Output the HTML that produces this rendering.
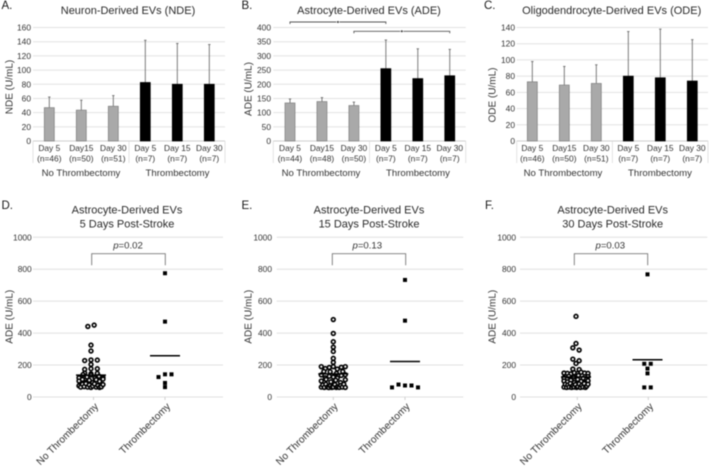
<!DOCTYPE html>
<html lang="en">
<head>
<meta charset="utf-8">
<title>Extracellular vesicle levels by thrombectomy status</title>
<style>
html,body{margin:0;padding:0;background:#fff;width:709px;height:468px;overflow:hidden}
svg{display:block;filter:blur(.45px)}
text{font-family:"Liberation Sans",sans-serif;fill:#333}
.title{font-size:11px;fill:#2a2a2a;text-anchor:middle}
.letter{font-size:11.5px;fill:#1a1a1a}
.ytitle{font-size:10px;text-anchor:middle}
.tick{font-size:8.4px;text-anchor:end}
.day{font-size:8.4px;text-anchor:middle}
.group{font-size:9.6px;text-anchor:middle}
.p{font-size:9.6px;text-anchor:middle}
.cat{font-size:10.1px;text-anchor:end}
</style>
</head>
<body>
<svg id="chart" xmlns="http://www.w3.org/2000/svg" width="709" height="468" viewBox="0 0 709 468">
  <rect width="709" height="468" fill="#fff"/>

  <g id="panel-a">
    <text class="letter" x="1.5" y="9">A.</text>
    <text class="title" x="128" y="14">Neuron-Derived EVs (NDE)</text>
    <text class="ytitle" transform="translate(12.5 87) rotate(-90)">NDE (U/mL)</text>
    <text class="group" x="81" y="176">No Thrombectomy</text>
    <text class="group" x="177.5" y="176">Thrombectomy</text>
  </g>

  <g id="panel-b">
    <text class="letter" x="241.5" y="9">B.</text>
    <text class="title" x="369" y="14">Astrocyte-Derived EVs (ADE)</text>
    <text class="ytitle" transform="translate(251.7 89) rotate(-90)">ADE (U/mL)</text>
    <text class="group" x="321" y="176">No Thrombectomy</text>
    <text class="group" x="418" y="176">Thrombectomy</text>
  </g>

  <g id="panel-c">
    <text class="letter" x="484" y="9">C.</text>
    <text class="title" x="611.7" y="14">Oligodendrocyte-Derived EVs (ODE)</text>
    <text class="ytitle" transform="translate(495.7 95) rotate(-90)">ODE (U/mL)</text>
    <text class="group" x="563" y="176">No Thrombectomy</text>
    <text class="group" x="660" y="176">Thrombectomy</text>
  </g>

  <g id="panel-d">
    <text class="letter" x="1.5" y="209">D.</text>
    <text class="title" x="127" y="213.3">Astrocyte-Derived EVs</text>
    <text class="title" x="127" y="227.3">5 Days Post-Stroke</text>
    <text class="ytitle" transform="translate(12.5 316.7) rotate(-90)">ADE (U/mL)</text>
    <text class="p" x="128" y="248.3"><tspan font-style="italic">p</tspan>=0.02</text>
    <text class="cat" transform="translate(99 407) rotate(-45)">No Thrombectomy</text>
    <text class="cat" transform="translate(171 407) rotate(-45)">Thrombectomy</text>
  </g>

  <g id="panel-e">
    <text class="letter" x="241.5" y="209">E.</text>
    <text class="title" x="369" y="213.3">Astrocyte-Derived EVs</text>
    <text class="title" x="369" y="227.3">15 Days Post-Stroke</text>
    <text class="ytitle" transform="translate(251.7 316.7) rotate(-90)">ADE (U/mL)</text>
    <text class="p" x="367.3" y="248.3"><tspan font-style="italic">p</tspan>=0.13</text>
    <text class="cat" transform="translate(338.5 407) rotate(-45)">No Thrombectomy</text>
    <text class="cat" transform="translate(410.5 407) rotate(-45)">Thrombectomy</text>
  </g>

  <g id="panel-f">
    <text class="letter" x="485" y="209">F.</text>
    <text class="title" x="612.7" y="213.3">Astrocyte-Derived EVs</text>
    <text class="title" x="612.7" y="227.3">30 Days Post-Stroke</text>
    <text class="ytitle" transform="translate(495.7 316.7) rotate(-90)">ADE (U/mL)</text>
    <text class="p" x="610.3" y="248.3"><tspan font-style="italic">p</tspan>=0.03</text>
    <text class="cat" transform="translate(582.5 407) rotate(-45)">No Thrombectomy</text>
    <text class="cat" transform="translate(654 407) rotate(-45)">Thrombectomy</text>
  </g>
</svg>

<script>
const dayLabels = ['Day 5', 'Day15', 'Day 30', 'Day 5', 'Day 15', 'Day 30'];

const ndeCounts = ['(n=46)', '(n=50)', '(n=51)', '(n=7)', '(n=7)', '(n=7)'];
const ndeMeans = [47, 43.5, 49, 82.5, 80, 80];
const ndeUpper = [62, 57.5, 64, 142, 137.5, 136];
const ndeTicks = [0, 20, 40, 60, 80, 100, 120, 140, 160];

const adeCounts = ['(n=44)', '(n=48)', '(n=50)', '(n=7)', '(n=7)', '(n=7)'];
const adeMeans = [134, 139, 125, 255, 220, 230];
const adeUpper = [148, 153, 137, 356, 325, 323];
const adeTicks = [0, 50, 100, 150, 200, 250, 300, 350, 400];

const odeCounts = ['(n=46)', '(n=50)', '(n=51)', '(n=7)', '(n=7)', '(n=7)'];
const odeMeans = [73, 69, 71, 80, 78, 74];
const odeUpper = [98, 92, 94, 135, 138, 125];
const odeTicks = [0, 20, 40, 60, 80, 100, 120, 140];

const scatterTicks = [0, 200, 400, 600, 800, 1000];

const day5None = [442, 450, 325, 288, 228, 232, 231, 204, 173, 177, 177, 150, 145, 148,
  120, 140, 125, 138, 118, 130, 122,
  100, 110, 92, 105, 90, 108, 98, 112,
  70, 62, 80, 65, 84, 62, 75, 60, 68, 82, 62, 72, 60, 64, 78];
const day5Thrombectomy = [775, 472, 125, 142, 142, 88, 62];
const day5Means = [137, 258];

const day15None = [485, 398, 346, 312, 285, 242, 217,
  190, 178, 185, 190, 175, 186, 190,
  160, 158, 148, 160,
  138, 120, 130, 125, 118, 135, 140,
  100, 110, 95, 105, 90, 108,
  62, 75, 60, 80, 62, 59, 70, 60, 62, 78, 60, 64, 60, 72, 62, 80, 60];
const day15Thrombectomy = [733, 478, 60, 78, 72, 72, 60];
const day15Means = [145, 222];

const day30None = [505, 335, 308, 294, 237, 227, 210, 175, 172,
  150, 148, 145, 152, 147, 155, 150, 148,
  120, 130, 125, 135, 118, 128,
  100, 95, 105, 90, 110, 98, 92, 102,
  62, 80, 60, 75, 62, 85, 60, 70, 62, 78, 60, 65, 82, 60, 72, 62, 84, 60, 68, 80];
const day30Thrombectomy = [768, 208, 208, 178, 148, 60, 60];
const day30Means = [125, 233];

const SVG_NS = 'http://www.w3.org/2000/svg';

function shape(parent, tag, attrs) {
  const el = document.createElementNS(SVG_NS, tag);
  for (const k in attrs) el.setAttribute(k, attrs[k]);
  parent.appendChild(el);
  return el;
}

function drawBarPanel(id, opts) {
  const g = document.getElementById(id);
  const maxTick = opts.ticks[opts.ticks.length - 1];
  const yScale = v => opts.yBottom - (v / maxTick) * (opts.yBottom - opts.yTop);
  const xScale = i => opts.firstBar + i * opts.barStep;

  opts.ticks.forEach(t => {
    const line = shape(g, 'line', {x1: opts.left, x2: opts.right, y1: yScale(t), y2: yScale(t), stroke: t === 0 ? '#cfcfcf' : '#e2e2e2', 'stroke-width': 1});
    
    
    const label = shape(g, 'text', {class: 'tick', x: opts.tickRight, y: yScale(t) + 3});
    label.textContent = t;
    
    
  });

  [opts.left, (opts.left + opts.right) / 2, opts.right].forEach(x => {
    const sep = shape(g, 'line', {x1: x, x2: x, y1: opts.yBottom, y2: opts.yBottom + 22, stroke: '#dcdcdc', 'stroke-width': 0.8});
    
    
  });

  opts.means.forEach((m, i) => {
    const cx = xScale(i);
    const isThrombectomy = i >= 3;
    const err = shape(g, 'line', {x1: cx, x2: cx, y1: yScale(m), y2: yScale(opts.upper[i]), stroke: '#6e6e6e', 'stroke-width': 0.9});
    
    
    const cap = shape(g, 'line', {x1: cx - 1.2, x2: cx + 1.2, y1: yScale(opts.upper[i]), y2: yScale(opts.upper[i]), stroke: '#6e6e6e', 'stroke-width': 0.9});
    
    
    const bar = shape(g, 'rect', {
      x: cx - 5, y: yScale(m), width: 10, height: yScale(0) - yScale(m),
      fill: isThrombectomy ? '#000' : '#a9a9a9',
      stroke: isThrombectomy ? '#000' : '#7f7f7f', 'stroke-width': 0.7
    });
    
    
    const day = shape(g, 'text', {class: 'day', x: cx, y: 151});
    day.textContent = dayLabels[i];
    
    
    const count = shape(g, 'text', {class: 'day', x: cx, y: 161.5});
    count.textContent = opts.counts[i];
    
    
  });

  (opts.brackets || []).forEach(b => {
    const x1 = xScale(b.from), x2 = xScale(b.to), y = b.y;
    const path = shape(g, 'path', {d: 'M' + x1 + ' ' + (y + 2) + 'V' + y + 'H' + x2 + 'V' + (y + 2), fill: 'none', stroke: '#555', 'stroke-width': 0.9});
    
    
    const star = shape(g, 'circle', {cx: (x1 + x2) / 2, cy: y, r: 1.3, fill: '#333', stroke: '#fff', 'stroke-width': 0.6});
    
    
  });
}

/* Points fall into value rows; each row is centred on its category. */
function rowOffsets(values, step, maxWidth) {
  const rows = {};
  values.forEach((v, i) => {
    const r = Math.floor((v - 59) / 28);
    (rows[r] = rows[r] || []).push(i);
  });
  const out = [];
  Object.keys(rows).forEach(r => {
    const idx = rows[r];
    const s = idx.length > 1 ? Math.min(step, maxWidth / (idx.length - 1)) : 0;
    idx.forEach((pointIndex, k) => { out[pointIndex] = (k - (idx.length - 1) / 2) * s; });
  });
  return out;
}

function drawScatterPanel(id, opts) {
  const g = document.getElementById(id);
  const yScale = v => 397 - (v / 1000) * 159.7;
  const xScale = c => opts.centers[c];

  scatterTicks.forEach(t => {
    const line = shape(g, 'line', {x1: opts.left, x2: opts.right, y1: yScale(t), y2: yScale(t), stroke: '#e0e0e0', 'stroke-width': 1});
    
    
    const label = shape(g, 'text', {class: 'tick', x: opts.tickRight, y: yScale(t) + 3});
    label.textContent = t;
    
    
  });

  opts.ticksX.forEach(x => {
    const tick = shape(g, 'line', {x1: x, x2: x, y1: 397, y2: 400, stroke: '#d0d0d0', 'stroke-width': 1});
    
    
  });

  const bracket = shape(g, 'path', {d: 'M' + opts.bracket[0] + ' 265.3V253.7H' + opts.bracket[1] + 'V265.3', fill: 'none', stroke: '#777', 'stroke-width': 0.9});
  
  

  const noneOffsets = rowOffsets(opts.none, 6.3, 24);
  opts.none.forEach((v, i) => {
    const c = shape(g, 'circle', {cx: xScale(0) + noneOffsets[i], cy: yScale(v), r: 1.9, fill: '#fff', stroke: '#000', 'stroke-width': 1.6});
    
    
  });

  const thrombOffsets = rowOffsets(opts.thrombectomy, 6.5, 27);
  opts.thrombectomy.forEach((v, i) => {
    const s = shape(g, 'rect', {x: xScale(1) + thrombOffsets[i] - 2, y: yScale(v) - 2, width: 4, height: 4, fill: '#000'});
    
    
  });

  opts.means.forEach((m, c) => {
    const line = shape(g, 'line', {x1: xScale(c) - 15, x2: xScale(c) + 15, y1: yScale(m), y2: yScale(m), stroke: '#000', 'stroke-width': 1.5});
    
    
  });
}

drawBarPanel('panel-a', {left: 33, right: 225, yTop: 27.5, yBottom: 141, tickRight: 31, firstBar: 49.3, barStep: 32, ticks: ndeTicks, means: ndeMeans, upper: ndeUpper, counts: ndeCounts});
drawBarPanel('panel-b', {left: 273.3, right: 465.7, yTop: 27.5, yBottom: 141, tickRight: 271, firstBar: 290, barStep: 31.95, ticks: adeTicks, means: adeMeans, upper: adeUpper, counts: adeCounts,
  brackets: [{from: 0, to: 3, y: 22}, {from: 2, to: 5, y: 31.3}]});
drawBarPanel('panel-c', {left: 516.7, right: 708, yTop: 27.5, yBottom: 141, tickRight: 515, firstBar: 532.3, barStep: 32, ticks: odeTicks, means: odeMeans, upper: odeUpper, counts: odeCounts});

drawScatterPanel('panel-d', {left: 33, right: 223, tickRight: 31.7, centers: [91, 165], ticksX: [93.5, 165], bracket: [91.7, 165.3], none: day5None, thrombectomy: day5Thrombectomy, means: day5Means});
drawScatterPanel('panel-e', {left: 276.7, right: 463.3, tickRight: 272, centers: [333.3, 405], ticksX: [333.3, 405], bracket: [332.3, 405.7], none: day15None, thrombectomy: day15Thrombectomy, means: day15Means});
drawScatterPanel('panel-f', {left: 520, right: 707.3, tickRight: 516, centers: [576, 647.5], ticksX: [577.3, 648.3], bracket: [574.3, 647.7], none: day30None, thrombectomy: day30Thrombectomy, means: day30Means});
</script>
</body>
</html>
